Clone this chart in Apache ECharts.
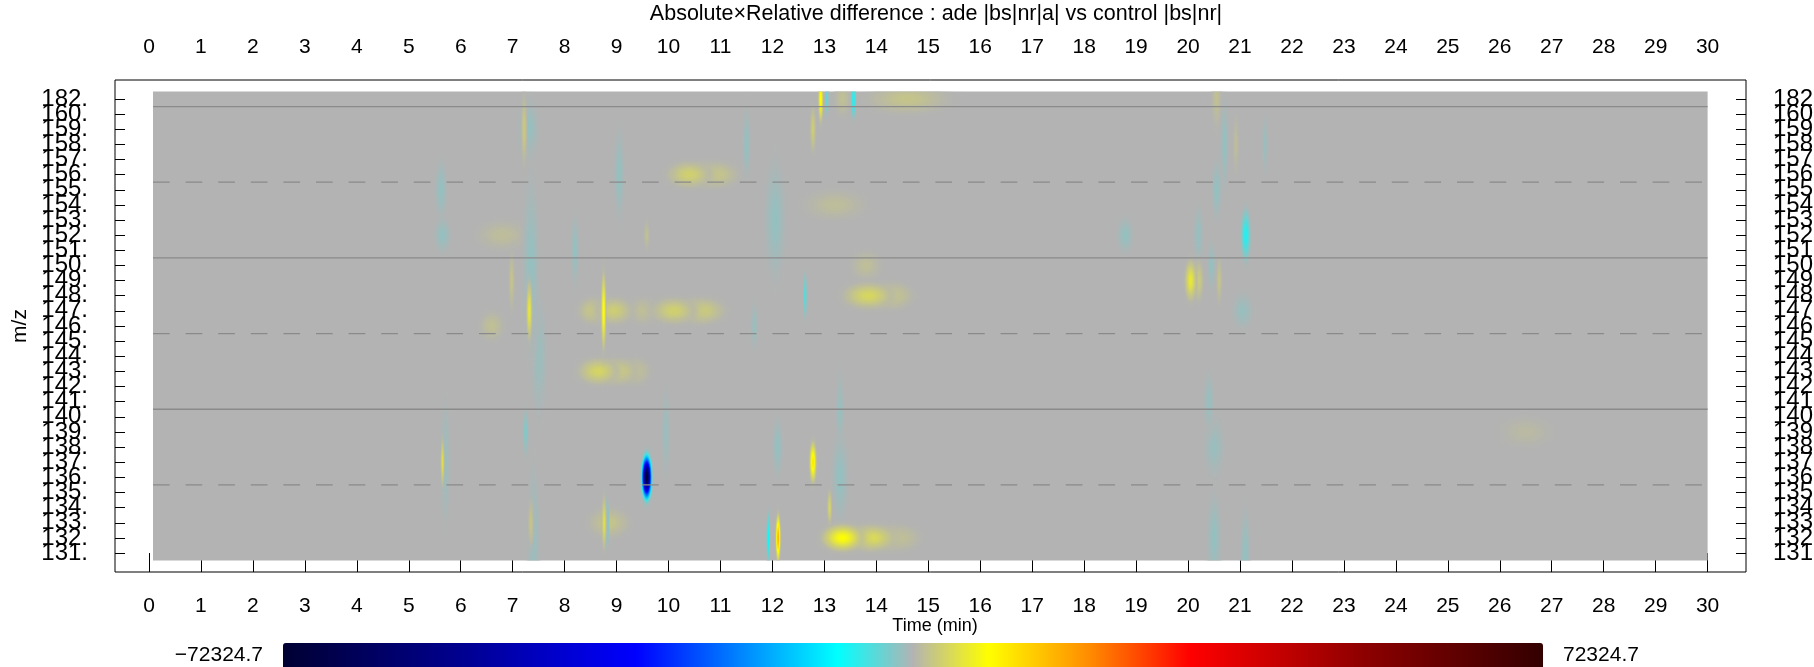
<!DOCTYPE html>
<html><head><meta charset="utf-8">
<script src="https://cdn.jsdelivr.net/npm/echarts@6/dist/echarts.min.js"></script>
<style>html,body{margin:0;padding:0;background:#fff}#c{width:1814px;height:667px}</style>
</head><body><div id="c"></div>
<script>
// ---------------- data ----------------
const titleText = 'Absolute×Relative difference : ade |bs|nr|a| vs control |bs|nr|';
const xTitle = 'Time (min)', yTitle = 'm/z';
const mzLabels = ['131.','132.','133.','134.','135.','136.','137.','138.','139.','140.',
  '141.','142.','143.','144.','145.','146.','147.','148.','149.','150.',
  '151.','152.','153.','154.','155.','156.','157.','158.','159.','160.','182.'];
const mzValues = [131,132,133,134,135,136,137,138,139,140,141,142,143,144,145,146,147,148,149,150,
  151,152,153,154,155,156,157,158,159,160,182];
const timeMin = 0, timeMax = 30, timeStep = 1;
const scanRange = [0.077, 30];
const colorMin = -72324.7, colorMax = 72324.7;
const colorMinLabel = '\u221272324.7', colorMaxLabel = '72324.7';
const solidSepAbove = [160, 150, 140];   // solid separator above these m/z rows
const dashedSepAbove = [155, 145, 135];  // dashed separator above these m/z rows
// peaks: [time (min), m/z, value, time spread (min), m/z spread (rows)]
const faintPeaks = [
 [5.62,155,-1500,0.06,1.0],[5.65,152,-1500,0.08,0.6],[5.70,137,-1200,0.05,2.0],
 [7.30,159,-1500,0.10,1.0],[7.35,150,-1500,0.08,3.0],[7.50,144,-1200,0.08,2.0],
 [7.25,139,-2500,0.03,0.8],[7.40,132,-1200,0.06,2.5],[6.80,152,1200,0.25,0.5],
 [6.60,146,1500,0.12,0.5],[6.98,149,2000,0.03,1.0],[7.22,159,2500,0.03,1.2],
 [7.35,133,2000,0.03,0.8],[9.05,156,-1500,0.05,1.5],[9.58,152,1500,0.03,0.5],
 [9.95,139,-1200,0.04,1.5],[8.20,151,-1500,0.04,1.2],[11.50,158,-1500,0.04,1.2],
 [12.05,153,-1500,0.10,2.0],[11.65,146,-1200,0.04,0.8],[12.78,159,3000,0.03,0.8],
 [13.20,154,1200,0.30,0.5],[13.80,150,1300,0.15,0.5],[12.10,138,-1500,0.05,1.0],
 [13.30,140,-1500,0.04,1.5],[13.30,136,-1500,0.08,1.5],[14.60,182,2000,0.40,0.5],
 [13.35,182,1500,0.08,0.6],[20.55,182,1500,0.05,1.0],[20.70,158,-1500,0.04,1.5],
 [20.92,158,1200,0.03,1.0],[18.79,152,-1500,0.08,0.6],[21.48,158,-1200,0.03,1.0],
 [20.55,155,-1500,0.05,1.0],[20.45,150,-1500,0.04,0.8],[20.60,149,2000,0.03,0.8],
 [21.05,147,-1300,0.10,0.6],[20.40,141,-1300,0.05,1.0],[20.50,138,-1200,0.10,1.0],
 [20.50,132,-1500,0.07,1.5],[21.10,131,-1500,0.05,1.5],[20.20,152,-1300,0.05,1.0],
 [26.50,139,800,0.25,0.5]
];
const strongPeaks = [
 [8.65,143,3800,0.20,0.45],[9.00,143,3300,0.20,0.45],[9.35,143,2000,0.15,0.45],
 [8.55,147,2500,0.15,0.45],[8.95,147,3000,0.18,0.45],[9.50,147,1500,0.15,0.45],
 [10.10,147,3300,0.22,0.45],[10.60,147,3000,0.25,0.45],[8.75,147,9000,0.025,1.3],[7.32,147,6000,0.03,1.0],
 [10.40,156,3300,0.22,0.45],[10.85,156,2500,0.25,0.45],
 [13.85,148,4000,0.25,0.45],[14.30,148,2500,0.20,0.45],[12.63,148,-5000,0.02,0.8],
 [20.05,149,6000,0.06,0.7],[20.20,149,3000,0.05,0.7],[21.11,152,-7000,0.05,0.9],
 [12.93,182,9000,0.025,0.8],[13.05,182,-4000,0.02,0.6],[13.56,182,-8000,0.025,0.7],
 [12.78,137,11000,0.035,0.7],
 [13.35,132,8500,0.20,0.45],[13.90,132,4500,0.25,0.45],[14.35,132,2000,0.25,0.45],
 [11.92,132,-8000,0.02,0.9],[12.11,132,16000,0.025,0.8],[13.10,134,4000,0.025,0.6],
 [8.85,133,2000,0.20,0.5],[8.76,133,5000,0.025,0.9],[8.82,133,-4000,0.02,0.9],
 [5.65,137,5000,0.02,0.8],[9.58,136,-72324.7,0.05,0.75]
];

// ---------------- styling ----------------
const FONT = '"Liberation Sans", Arial, Helvetica, sans-serif';
const NARROW = '"Liberation Sans Narrow", "Arial Narrow", "Liberation Sans", sans-serif';
const cmapStops = [
 [0.00,[0,0,51]],[0.15,[0,0,150]],[0.28,[0,0,255]],[0.36,[0,128,255]],
 [0.44,[0,255,255]],[0.50,[179,179,179]],[0.56,[255,255,0]],[0.64,[255,140,0]],
 [0.72,[255,0,0]],[0.86,[140,0,0]],[1.00,[51,0,0]]
];
function cmapRGB(v){
  let f=(v-colorMin)/(colorMax-colorMin); f=Math.max(0,Math.min(1,f));
  for(let i=1;i<cmapStops.length;i++){
    if(f<=cmapStops[i][0]){
      const a=cmapStops[i-1], b=cmapStops[i]; const u=(f-a[0])/(b[0]-a[0]);
      return a[1].map((c,k)=>Math.round(c+(b[1][k]-c)*u));
    }
  }
  return cmapStops[cmapStops.length-1][1];
}
const palette=[]; for(let i=0;i<=100;i++){ palette.push('rgb('+cmapRGB(colorMin+(colorMax-colorMin)*i/100).join(',')+')'); }
const rowOf = mz => mzValues.indexOf(mz);

function renderBlob(params, api){
  const t=api.value(0), r=api.value(1), v=api.value(2), st=api.value(3), sr=api.value(4);
  const c=api.coord([t,r]);
  const s=api.size([st,sr],[t,r]);
  const rx=3*s[0], ry=3*s[1];
  const stops=[]; const N=16;
  for(let i=0;i<=N;i++){
    const o=i/N; const p=Math.exp(-0.5*(3*o)*(3*o));
    const a = i===N?0:Math.min(1,p*5);
    stops.push({offset:o,color:'rgba('+cmapRGB(v*p).join(',')+','+a.toFixed(3)+')'});
  }
  stops[0].color = api.visual('color');
  return {type:'circle', x:c[0], y:c[1], scaleX: rx/ry, scaleY:1,
    shape:{cx:0,cy:0,r:ry}, style:{fill:new echarts.graphic.RadialGradient(0.5,0.5,0.5,stops)}};
}
function renderBg(params, api){
  const cs=params.coordSys;
  const x0=api.coord([api.value(0),0])[0], x1=api.coord([api.value(2),0])[0];
  return {type:'rect', shape:{x:x0,y:cs.y,width:x1-x0,height:cs.height}, style:{fill:'#b3b3b3'}};
}

const chart = echarts.init(document.getElementById('c'), null, {renderer:'canvas'});
const axisTxt = {color:'#000', fontSize:21, fontFamily:FONT};
const yTxt = {color:'#000', fontSize:24, fontFamily:NARROW};
const lineSeries = [];
solidSepAbove.forEach(mz=>{ const y=rowOf(mz)+0.5; lineSeries.push({type:'line', xAxisIndex:0, yAxisIndex:0, z:5, symbol:'none', silent:true, animation:false,
  data:[[scanRange[0],y],[scanRange[1],y]], lineStyle:{color:'#8a8a8a', width:1.3, type:'solid'}}); });
dashedSepAbove.forEach(mz=>{ const y=rowOf(mz)+0.5; lineSeries.push({type:'line', xAxisIndex:0, yAxisIndex:0, z:5, symbol:'none', silent:true, animation:false,
  data:[[scanRange[0],y],[scanRange[1],y]], lineStyle:{color:'#8a8a8a', width:1.3, type:[16.7,15.9]}}); });

const peaks = [...faintPeaks, ...strongPeaks].slice().sort((a,b)=>Math.abs(a[2])-Math.abs(b[2]));

const rowH = 469.2/31;
const nRows = mzLabels.length;
// tick axes: first to last row centre
const yTickAxis = (pos)=>({gridIndex:2, type:'value', min:0, max:nRows-1, interval:1, position:pos,
  axisLine:{show:false}, splitLine:{show:false}, axisLabel:{show:false},
  axisTick:{show:true, inside:true, length:10, lineStyle:{color:'#000'}}});
// label axes: padded by two empty rows on each end
const yLabelAxis = (pos)=>({gridIndex:3, type:'value', min:-2, max:nRows+1, interval:1, position:pos,
  axisLine:{show:false}, splitLine:{show:false}, axisTick:{show:false},
  axisLabel:{margin:27, hideOverlap:false, formatter:(v)=>(v>=0 && v<nRows) ? mzLabels[Math.round(v)] : '', ...yTxt}});

chart.setOption({
  animation:false,
  backgroundColor:'#fff',
  grid:[
    {left:149, right:106.4, top:91.4, bottom:106.4, show:false, containLabel:false, outerBoundsMode:'none'},
    {left:115, right:68, top:80, bottom:95, show:true, borderColor:'#000', borderWidth:1, backgroundColor:'rgba(0,0,0,0)', containLabel:false, outerBoundsMode:'none'},
    {left:115, right:68, top:91.4+rowH/2, bottom:106.4+rowH/2, show:false, containLabel:false, outerBoundsMode:'none'},
    {left:115, right:68, top:91.4+rowH/2-2*rowH, bottom:106.4+rowH/2-2*rowH, show:false, containLabel:false, outerBoundsMode:'none'}
  ],
  xAxis:[
    {gridIndex:0, type:'value', min:timeMin, max:timeMax, interval:timeStep, position:'top', offset:11.4,
     axisLine:{show:false}, axisTick:{show:true, inside:true, length:10, lineStyle:{color:'#000'}},
     axisLabel:{margin:22, ...axisTxt}, splitLine:{show:false}},
    {gridIndex:0, type:'value', min:timeMin, max:timeMax, interval:timeStep, position:'bottom', offset:11.4,
     axisLine:{show:false}, axisTick:{show:true, inside:true, length:10, lineStyle:{color:'#000'}},
     axisLabel:{margin:24, ...axisTxt}, splitLine:{show:false}},
    {gridIndex:1, type:'value', show:false},
    {gridIndex:2, type:'value', show:false},
    {gridIndex:3, type:'value', show:false}
  ],
  yAxis:[
    {gridIndex:0, type:'value', min:-0.5, max:30.5, show:false},
    {gridIndex:1, type:'value', show:false},
    yTickAxis('left'), yTickAxis('right'),
    yLabelAxis('left'), yLabelAxis('right')
  ],
  visualMap:{type:'continuous', min:colorMin, max:colorMax, dimension:2, seriesIndex:1,
    orient:'horizontal', left:278, top:638, padding:5, itemWidth:26, itemHeight:1260,
    calculable:false, showLabel:false, text:null, inRange:{color:palette}, hoverLink:false},
  graphic:[
    {type:'text', x:936, y:14, style:{text:titleText, fill:'#000', font:'21.5px '+FONT, align:'center', verticalAlign:'middle'}},
    {type:'text', x:935, y:626, style:{text:xTitle, fill:'#000', font:'18px '+FONT, align:'center', verticalAlign:'middle'}},
    {type:'text', x:20, y:326, rotation:Math.PI/2, style:{text:yTitle, fill:'#000', font:'21px '+FONT, align:'center', verticalAlign:'middle'}},
    {type:'text', x:263, y:655, style:{text:colorMinLabel, fill:'#000', font:'21px '+FONT, align:'right', verticalAlign:'middle'}},
    {type:'text', x:1563, y:655, style:{text:colorMaxLabel, fill:'#000', font:'21px '+FONT, align:'left', verticalAlign:'middle'}}
  ],
  series:[
    {type:'custom', xAxisIndex:0, yAxisIndex:0, z:1, silent:true, renderItem:renderBg,
     data:[[scanRange[0],0,scanRange[1]]], encode:{x:[0,2], y:1}},
    {type:'custom', xAxisIndex:0, yAxisIndex:0, z:2, silent:true, clip:true, renderItem:renderBlob,
     dimensions:['t','row','v','st','sr'], encode:{x:0, y:1},
     data:peaks.map(p=>[p[0], rowOf(p[1]), p[2], p[3], p[4]])},
    ...lineSeries
  ]
});
</script></body></html>
